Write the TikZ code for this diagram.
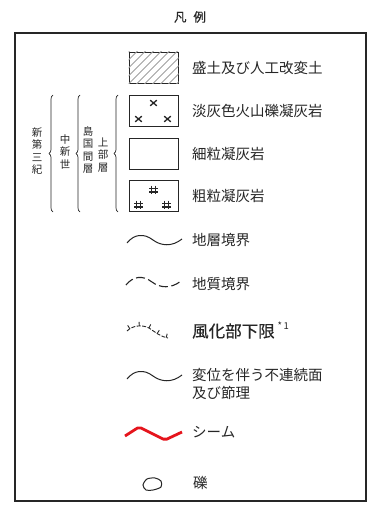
\documentclass[tikz,border=0pt]{standalone}
\usepackage{fontspec}
\setmainfont{Noto Sans CJK JP}
\newfontfamily\heavyjp{Noto Sans CJK JP}[FakeBold=0.5]
\usepackage{xcolor}
\usepackage{tikz}
\usetikzlibrary{decorations.pathreplacing,decorations.markings,calc}
\definecolor{ink}{HTML}{262626}
\definecolor{seam}{HTML}{E5141C}
\definecolor{hatch}{HTML}{A0A0A0}

\tikzset{
  legbox/.style={draw=ink,line width=1pt,minimum width=49pt,minimum height=31pt,inner sep=0pt},
  legtext/.style={anchor=west,inner sep=0pt,text=ink,font=\fontsize{14.5}{18}\selectfont},
  vlabel/.style={inner sep=0pt,text=ink,align=center,font=\fontsize{10.5}{12.4}\selectfont},
  agebrace/.style={draw=ink,line width=0.7pt,decorate,decoration={brace,amplitude=4pt}},
  wave/.pic={\draw[pic actions] (-28,3) .. controls (-21,-6) and (-11,-7) .. (-2,0)
                 .. controls (6,6) and (17,7) .. (27,-1);},
  xmark/.pic={\draw[ink,line width=1.3pt] (-3.3,-2.8) -- (3.3,2.8) (-3.3,2.8) -- (3.3,-2.8);},
  hashmark/.pic={\draw[ink,line width=1.6pt] (-1.9,-4.3) -- (-1.9,4.3) (1.9,-4.3) -- (1.9,4.3)
                 (-4.3,-1.7) -- (4.3,-1.7) (-4.3,1.7) -- (4.3,1.7);},
}

\begin{document}
\begin{tikzpicture}[x=1pt,y=-1pt]
  \useasboundingbox (0,0) rectangle (371,508);
  \node[text=ink,font=\heavyjp\fontsize{12.5}{14}\selectfont] (title) at (190,17) {凡\hspace{0.55em}例};
  \draw[ink,line width=1.8pt] (15,33) rectangle (366,501);

  % rock units
  \node[legbox] (fill) at (153.5,68) {};
  \begin{scope}
    \clip (fill.south west) rectangle (fill.north east);
    \foreach \k in {-40,-32,...,56}
      \draw[hatch,line width=0.8pt] ($(fill.south west)+(\k,0)$) -- ++(36,-36);
  \end{scope}
  \node[legbox] (tuff) at (153.5,111) {};
  \pic at ($(tuff)+(0,-8)$) {xmark};
  \pic at ($(tuff)+(-15,8)$) {xmark};
  \pic at ($(tuff)+(14,8)$) {xmark};
  \node[legbox] (fine) at (153.5,154) {};
  \node[legbox] (coarse) at (153.5,196) {};
  \pic at ($(coarse)+(0,-6)$) {hashmark};
  \pic at ($(coarse)+(-15,9)$) {hashmark};
  \pic at ($(coarse)+(13,9)$) {hashmark};

  \node[legtext] (tFill) at (192,68) {盛土及び人工改変土};
  \node[legtext] (tTuff) at (192,111) {淡灰色火山礫凝灰岩};
  \node[legtext] (tFine) at (192,154) {細粒凝灰岩};
  \node[legtext] (tCoarse) at (192,196) {粗粒凝灰岩};

  % stratigraphy
  \node[vlabel] (neo) at (37,151) {新\\第\\三\\紀};
  \node[vlabel] (mio) at (65,152) {中\\新\\世};
  \node[vlabel] (shima) at (88,150) {島\\国\\間\\層};
  \node[vlabel] (upper) at (103,155) {上\\部\\層};
  \draw[agebrace] (53,212) -- (53,95);
  \draw[agebrace] (80,212) -- (80,95);
  \draw[agebrace] (118,212) -- (118,95);

  % boundaries
  \pic[draw=ink,line width=1pt] at (155,240) {wave};
  \node[legtext] (tBed) at (192,240) {地層境界};
  \pic[draw=ink,line width=1.1pt,dash pattern=on 9pt off 3.5pt] at (154,282) {wave};
  \node[legtext] (tGeo) at (192,284) {地質境界};
  \draw[ink,line width=0.9pt,dash pattern=on 4pt off 1.5pt,postaction={decorate},
        decoration={markings,mark=between positions 0.08 and 0.98 step 0.22 with
          {\draw[solid,ink,line width=0.9pt] (0pt,0pt) -- (0pt,4pt);}}]
    (127,331) .. controls (132,326) and (141,324) .. (149,328)
    .. controls (155,332) and (161,337) .. (168,338);
  \node[legtext,font=\heavyjp\fontsize{16.5}{18}\selectfont] (tWeather) at (192,331) {風化部下限};
  \node[anchor=west,inner sep=0pt,text=ink,font=\fontsize{9.5}{10}\selectfont]
    (note) at ($(tWeather.east)+(2.5,-5)$) {*\,1};
  \pic[draw=ink,line width=1pt] at (155,376) {wave};
  \node[legtext,align=left] (tJoint) at (192,384) {変位を伴う不連続面\\及び節理};
  \draw[seam,line width=2.8pt,line join=round,rounded corners=2pt]
    (125,436) -- (139,427) -- (165,440) -- (182,432);
  \node[legtext] (tSeam) at (192,432) {シーム};
  \draw[ink,line width=1pt] plot[smooth cycle] coordinates
    {(143,485) (147,479) (155,478) (161,481) (161,487) (153,490) (146,490)};
  \node[legtext] (tGravel) at (193,483) {礫};
\end{tikzpicture}
\end{document}
